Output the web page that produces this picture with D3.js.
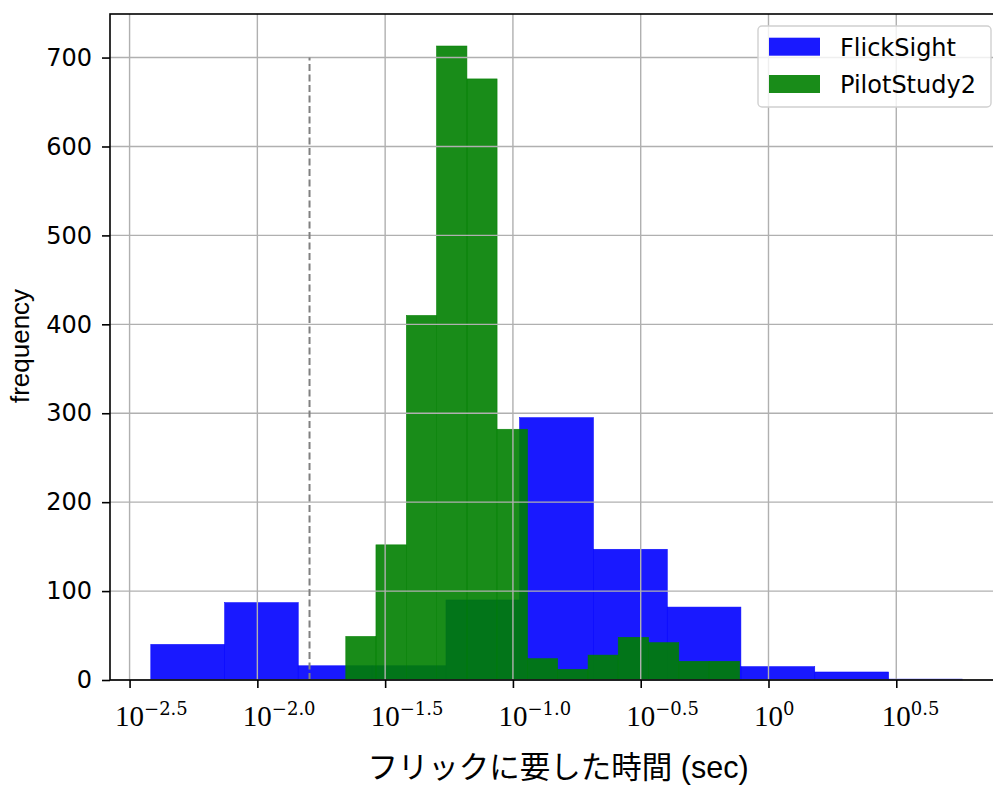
<!DOCTYPE html>
<html>
<head>
<meta charset="utf-8">
<script src="https://cdn.jsdelivr.net/npm/d3@7"></script>
<style>
  html, body { margin: 0; padding: 0; background: #fff; }
  svg { display: block; }
</style>
</head>
<body>
<svg id="chart" width="993" height="787"></svg>
<script>
// Histogram bin edges are log10(seconds); counts are per bin.
const flickEdges  = [-2.417, -2.128, -1.840, -1.551, -1.262, -0.974, -0.685, -0.396, -0.108, 0.181, 0.470, 0.758];
const flickCounts = [40, 87, 16, 16, 90, 295, 147, 82, 15, 9, 1];

const pilotEdges  = [-1.654, -1.536, -1.417, -1.299, -1.180, -1.062, -0.943, -0.825, -0.706, -0.588, -0.469, -0.351, -0.232, -0.113];
const pilotCounts = [49, 152, 410, 713, 676, 282, 24, 12, 28, 48, 42, 21, 21];

const seriesNames = ["FlickSight", "PilotStudy2"];
const xTickExps   = ["-2.5", "-2.0", "-1.5", "-1.0", "-0.5", "0", "0.5"];
const yTicks      = [0, 100, 200, 300, 400, 500, 600, 700];
const thresholdSec = 0.016;   // reference line (seconds)
const thresholdTop = 700;

const svg = d3.select("#chart");
const L = 110, R = 1003, T = 14, B = 680;

const x = d3.scaleLog().domain([Math.pow(10, -2.5766), Math.pow(10, 0.9176)]).range([L, R]);
const y = d3.scaleLinear().domain([0, 749]).range([B, T]);

const toBins = (edges, counts) => counts.map((c, i) => ({
  x0: Math.pow(10, edges[i]), x1: Math.pow(10, edges[i + 1]), n: c
}));

// bars
const barG = svg.append("g");
[[toBins(flickEdges, flickCounts), "rgba(0,0,255,0.9)"],
 [toBins(pilotEdges, pilotCounts), "rgba(0,128,0,0.9)"]].forEach(([bins, col]) => {
  barG.append("g").selectAll("rect").data(bins).join("rect")
    .attr("x", d => x(d.x0))
    .attr("width", d => x(d.x1) - x(d.x0))
    .attr("y", d => y(d.n))
    .attr("height", d => y(0) - y(d.n))
    .attr("fill", col)
    .attr("stroke", col).attr("stroke-width", 0.6);
});

// grid (drawn over the bars)
const tickVals = xTickExps.map(e => Math.pow(10, +e));
const grid = svg.append("g").attr("stroke", "#b0b0b0").attr("stroke-width", 1.4);
grid.selectAll("line.v").data(tickVals).join("line")
  .attr("x1", d => x(d)).attr("x2", d => x(d)).attr("y1", T).attr("y2", B);
grid.selectAll("line.h").data(yTicks).join("line")
  .attr("x1", L).attr("x2", R).attr("y1", d => y(d)).attr("y2", d => y(d));

// dashed threshold line
svg.append("line")
  .attr("x1", x(thresholdSec)).attr("x2", x(thresholdSec))
  .attr("y1", y(0)).attr("y2", y(thresholdTop))
  .attr("stroke", "#808080").attr("stroke-width", 2)
  .attr("stroke-dasharray", "7,3.5");

// axes
const xAxis = d3.axisBottom(x).tickValues(tickVals).tickFormat("").tickSizeOuter(0).tickSize(8);
const gx = svg.append("g").attr("transform", `translate(0,${B})`).call(xAxis);
gx.select(".domain").remove();
gx.selectAll(".tick line").attr("stroke", "#000").attr("stroke-width", 1.6);
gx.selectAll(".tick").each(function(d, i) {
  const t = d3.select(this).append("text")
    .attr("fill", "#000").attr("y", 46).attr("text-anchor", "start")
    .attr("x", -15)
    .style("font-family", "'Liberation Serif', serif");
  t.append("tspan").style("font-size", "29px").text("10");
  t.append("tspan").attr("dy", -11).style("font-size", "18px")
    .style("font-family", "'DejaVu Serif', serif")
    .text(xTickExps[i].replace("-", "\u2212"));
});

const yAxis = d3.axisLeft(y).tickValues(yTicks).tickSizeOuter(0).tickSize(8).tickPadding(10);
const gy = svg.append("g").attr("transform", `translate(${L},0)`).call(yAxis);
gy.select(".domain").remove();
gy.selectAll(".tick line").attr("stroke", "#000").attr("stroke-width", 1.6);
gy.selectAll(".tick text").attr("fill", "#000")
  .style("font-family", "'DejaVu Sans', sans-serif").style("font-size", "24px");

// axes frame
svg.append("rect").attr("x", L).attr("y", T).attr("width", R - L).attr("height", B - T)
  .attr("fill", "none").attr("stroke", "#000").attr("stroke-width", 1.6);

// axis titles
svg.append("text")
  .attr("x", 558).attr("y", 778).attr("text-anchor", "middle")
  .style("font-family", "'Liberation Sans', 'Noto Sans CJK JP', sans-serif")
  .style("font-size", "30.5px").attr("fill", "#000")
  .text("フリックに要した時間 (sec)");

svg.append("text")
  .attr("transform", "translate(29,346) rotate(-90)").attr("text-anchor", "middle")
  .style("font-family", "'Liberation Sans', sans-serif")
  .style("font-size", "26px").attr("fill", "#000")
  .text("frequency");

// legend
const lg = svg.append("g");
lg.append("rect").attr("x", 758).attr("y", 26).attr("width", 233).attr("height", 81)
  .attr("rx", 4).attr("fill", "rgba(255,255,255,0.8)").attr("stroke", "#d0d0d0").attr("stroke-width", 1.4);
const legCols = ["rgba(0,0,255,0.9)", "rgba(0,128,0,0.9)"];
seriesNames.forEach((name, i) => {
  lg.append("rect").attr("x", 769).attr("y", 37.7 + i * 37.3).attr("width", 51).attr("height", 18)
    .attr("fill", legCols[i]);
  lg.append("text").attr("x", 840).attr("y", 55.7 + i * 37)
    .style("font-family", "'DejaVu Sans', sans-serif").style("font-size", "24px")
    .attr("fill", "#000").text(name);
});
</script>
</body>
</html>
